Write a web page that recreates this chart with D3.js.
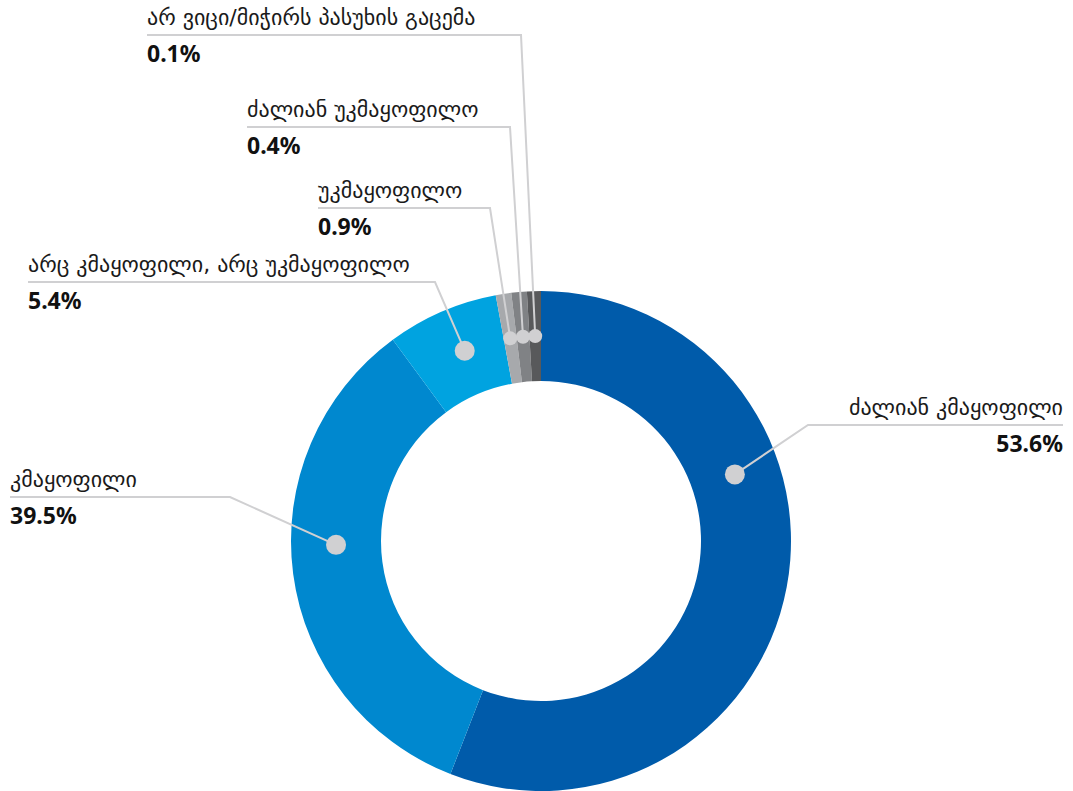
<!DOCTYPE html>
<html>
<head>
<meta charset="utf-8">
<script src="https://cdn.jsdelivr.net/npm/d3@7"></script>
<style>
  html, body { margin: 0; padding: 0; background: #fff; }
  .lbl { font-family: "DejaVu Sans", sans-serif; font-size: 22px; fill: #1a1a1a; }
  .val { font-family: "Noto Sans", "Open Sans", sans-serif; font-size: 23px; font-weight: 700; fill: #111; }
</style>
</head>
<body>
<div id="chart"></div>
<script>
// categories, in drawing order (clockwise from 12 o'clock)
var categories = [
    "ძალიან კმაყოფილი",
    "კმაყოფილი",
    "არც კმაყოფილი, არც უკმაყოფილო",
    "უკმაყოფილო",
    "ძალიან უკმაყოფილო",
    "არ ვიცი/მიჭირს პასუხის გაცემა"
];
// printed percentages
var percents = [53.6, 39.5, 5.4, 0.9, 0.4, 0.1];
// share of the ring each slice takes in the picture (small slices are widened)
var shares = [55.9, 34.0, 7.2, 1.0, 1.0, 0.9];
var colors = ["#005baa", "#0088cf", "#00a3e0", "#a7a9ac", "#808285", "#58595b"];

// layout of leader lines / labels
var width = 1073, height = 791;
var cx = 541, cy = 541, outerR = 250, innerR = 160, dotR = 205;
var dotAt = [0.353, 0.553, 0.56, 0.5, 0.5, 0.5];
var labelPos = [
    {x: 1063, y: 425, x0: 808, anchor: "end"},
    {x: 10, y: 497, x0: 230, anchor: "start"},
    {x: 28, y: 282, x0: 435, anchor: "start"},
    {x: 318, y: 208, x0: 490, anchor: "start"},
    {x: 247, y: 127, x0: 510, anchor: "start"},
    {x: 147, y: 35, x0: 521, anchor: "start"}
];

var data = categories.map(function (c, i) {
    return {name: c, pct: percents[i], share: shares[i], color: colors[i], i: i};
});

var svg = d3.select("#chart")
    .append("svg")
    .attr("width", width)
    .attr("height", height);

var pie = d3.pie().sort(null).value(d => d.share);
var arc = d3.arc().innerRadius(innerR).outerRadius(outerR);
var arcs = pie(data);

var g = svg.append("g").attr("transform", "translate(" + cx + "," + cy + ")");

g.selectAll("path.slice")
    .data(arcs)
    .join("path")
    .attr("class", "slice")
    .attr("fill", d => d.data.color)
    .attr("d", arc);

// dot positions on the ring
arcs.forEach(function (a) {
    var ang = a.startAngle + dotAt[a.index] * (a.endAngle - a.startAngle);
    a.dx = cx + dotR * Math.sin(ang);
    a.dy = cy - dotR * Math.cos(ang);
});

// leader lines
svg.selectAll("path.leader")
    .data(arcs)
    .join("path")
    .attr("class", "leader")
    .attr("fill", "none")
    .attr("stroke", "#d0d0d2")
    .attr("stroke-width", 2)
    .attr("d", function (a) {
        var p = labelPos[a.index];
        return "M" + p.x + "," + p.y + "L" + p.x0 + "," + p.y + "L" + a.dx + "," + a.dy;
    });

svg.selectAll("circle.dot")
    .data(arcs)
    .join("circle")
    .attr("class", "dot")
    .attr("cx", a => a.dx)
    .attr("cy", a => a.dy)
    .attr("r", a => a.index < 3 ? 10 : 7)
    .attr("fill", "#d0d0d2");

svg.selectAll("text.lbl")
    .data(arcs)
    .join("text")
    .attr("class", "lbl")
    .attr("x", a => labelPos[a.index].x)
    .attr("y", a => labelPos[a.index].y - 10)
    .attr("text-anchor", a => labelPos[a.index].anchor)
    .text(a => a.data.name);

svg.selectAll("text.val")
    .data(arcs)
    .join("text")
    .attr("class", "val")
    .attr("x", a => labelPos[a.index].x)
    .attr("y", a => labelPos[a.index].y + 27)
    .attr("text-anchor", a => labelPos[a.index].anchor)
    .text(a => a.data.pct.toFixed(1) + "%");
</script>
</body>
</html>
